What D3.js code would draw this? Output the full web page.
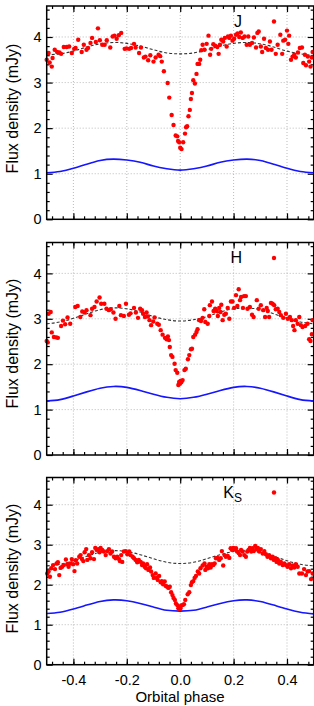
<!DOCTYPE html>
<html>
<head>
<meta charset="utf-8">
<script src="https://cdn.jsdelivr.net/npm/d3@7"></script>
<style>
  body { margin: 0; background: #fff; }
  svg { display: block; font-family: "Liberation Sans", Arial, sans-serif; }
</style>
</head>
<body>
<svg id="chart" width="314" height="706"></svg>
<script>
// observed fluxes [orbital phase, mJy]
const jPoints = [
  [-0.500,3.50],[-0.493,3.65],[-0.489,3.44],[-0.481,3.35],[-0.478,3.54],[-0.470,3.72],[-0.461,3.67],[-0.452,3.66],
  [-0.446,3.63],[-0.436,3.78],[-0.425,3.78],[-0.416,3.79],[-0.406,3.65],[-0.397,3.74],[-0.392,3.76],[-0.382,3.94],
  [-0.369,3.67],[-0.361,3.83],[-0.351,3.72],[-0.345,3.76],[-0.336,3.87],[-0.330,3.98],[-0.316,3.89],[-0.308,4.19],
  [-0.301,3.93],[-0.292,3.83],[-0.283,3.83],[-0.275,3.93],[-0.262,3.77],[-0.253,4.01],[-0.246,4.03],[-0.238,3.96],
  [-0.230,4.04],[-0.221,4.09],[-0.208,3.74],[-0.201,3.75],[-0.191,3.74],[-0.184,3.76],[-0.173,3.85],[-0.167,3.77],
  [-0.154,3.65],[-0.147,3.77],[-0.136,3.55],[-0.130,3.57],[-0.120,3.49],[-0.112,3.60],[-0.100,3.46],[-0.092,3.55],
  [-0.081,3.61],[-0.075,3.58],[-0.069,3.46],[-0.061,3.25],[-0.047,2.99],[-0.041,2.67],[-0.032,2.29],[-0.025,2.07],
  [-0.017,1.84],[-0.011,1.82],[-0.008,1.72],[-0.004,1.69],[0.000,1.57],[0.005,1.54],[0.011,1.69],[0.018,1.88],
  [0.022,2.02],[0.026,2.04],[0.031,2.26],[0.036,2.40],[0.040,2.64],[0.044,2.77],[0.049,3.05],[0.055,2.98],
  [0.061,3.19],[0.065,3.41],[0.071,3.41],[0.075,3.50],[0.079,3.71],[0.084,3.83],[0.091,3.72],[0.099,3.85],
  [0.106,4.03],[0.112,3.61],[0.116,3.74],[0.124,3.84],[0.131,3.81],[0.139,3.78],[0.144,3.63],[0.149,3.83],
  [0.154,3.94],[0.161,3.90],[0.167,3.98],[0.174,3.79],[0.179,4.01],[0.184,3.98],[0.190,4.03],[0.196,3.92],
  [0.202,3.96],[0.209,4.05],[0.215,4.08],[0.221,4.00],[0.227,4.10],[0.234,3.98],[0.241,4.01],[0.249,3.83],
  [0.255,4.01],[0.261,3.83],[0.269,3.87],[0.276,3.99],[0.284,3.77],[0.289,4.09],[0.294,4.12],[0.302,3.79],
  [0.307,3.67],[0.314,3.96],[0.321,3.76],[0.329,3.72],[0.336,3.90],[0.342,3.72],[0.358,3.63],[0.365,3.83],
  [0.375,4.05],[0.382,3.63],[0.386,3.92],[0.393,3.94],[0.400,4.14],[0.405,3.85],[0.408,4.03],[0.415,3.50],
  [0.421,3.57],[0.427,3.61],[0.433,3.55],[0.441,3.66],[0.448,3.76],[0.456,3.77],[0.461,3.43],[0.467,3.61],
  [0.471,3.38],[0.478,3.57],[0.483,3.46],[0.488,3.35],[0.493,3.55],[0.496,3.67]
];

const hPoints = [
  [-0.500,2.51],[-0.496,2.48],[-0.493,3.11],[-0.485,3.15],[-0.481,2.70],[-0.473,2.60],[-0.464,2.59],[-0.458,2.58],
  [-0.446,2.84],[-0.439,2.96],[-0.431,2.88],[-0.422,3.03],[-0.412,2.89],[-0.393,3.26],[-0.384,3.28],[-0.374,3.04],
  [-0.367,3.16],[-0.358,3.14],[-0.351,3.19],[-0.336,3.08],[-0.330,3.22],[-0.321,3.26],[-0.313,3.38],[-0.302,3.47],
  [-0.296,3.33],[-0.284,3.33],[-0.276,3.22],[-0.267,3.19],[-0.260,3.21],[-0.250,3.14],[-0.242,3.00],[-0.228,3.28],
  [-0.222,3.08],[-0.211,3.06],[-0.203,3.33],[-0.192,3.09],[-0.186,3.12],[-0.173,3.24],[-0.166,3.14],[-0.158,3.02],
  [-0.150,3.22],[-0.143,3.19],[-0.139,3.11],[-0.132,3.04],[-0.126,3.14],[-0.121,3.05],[-0.115,2.97],[-0.109,2.86],
  [-0.101,2.94],[-0.096,3.03],[-0.086,2.89],[-0.080,2.87],[-0.073,2.75],[-0.066,2.65],[-0.057,2.58],[-0.051,2.55],
  [-0.046,2.61],[-0.042,2.53],[-0.039,2.38],[-0.034,2.20],[-0.029,2.16],[-0.021,2.01],[-0.017,1.87],[-0.011,1.81],
  [-0.007,1.54],[-0.004,1.61],[-0.001,1.57],[0.001,1.63],[0.004,1.60],[0.009,1.65],[0.016,1.87],[0.021,1.90],
  [0.029,2.11],[0.034,2.20],[0.040,2.33],[0.044,2.34],[0.049,2.60],[0.056,2.65],[0.061,2.71],[0.065,2.77],
  [0.071,2.97],[0.078,2.95],[0.084,3.02],[0.090,3.21],[0.094,2.93],[0.103,2.89],[0.109,3.06],[0.111,3.30],
  [0.119,3.38],[0.125,3.17],[0.131,3.22],[0.137,3.17],[0.141,3.06],[0.146,3.24],[0.151,3.15],[0.154,3.31],
  [0.159,2.97],[0.165,3.09],[0.171,3.11],[0.178,3.24],[0.184,3.00],[0.190,3.38],[0.196,3.38],[0.202,3.24],
  [0.209,3.52],[0.214,3.28],[0.219,3.65],[0.224,3.41],[0.228,3.48],[0.235,3.24],[0.239,3.50],[0.246,3.50],
  [0.252,3.22],[0.261,3.26],[0.269,3.09],[0.275,3.04],[0.287,3.41],[0.294,3.22],[0.302,3.30],[0.311,3.19],
  [0.318,3.04],[0.324,3.24],[0.328,3.17],[0.333,3.04],[0.340,3.35],[0.346,3.33],[0.352,3.30],[0.358,3.21],
  [0.365,3.22],[0.371,3.15],[0.377,3.08],[0.386,3.02],[0.396,3.11],[0.403,3.00],[0.411,3.04],[0.418,2.97],
  [0.423,2.84],[0.428,2.75],[0.433,2.97],[0.440,2.89],[0.446,3.04],[0.452,2.86],[0.458,2.82],[0.468,2.84],
  [0.477,2.89],[0.483,2.55],[0.488,2.51],[0.493,2.66],[0.496,2.97]
];

const ksPoints = [
  [-0.498,2.28],[-0.493,2.33],[-0.488,2.20],[-0.483,2.41],[-0.476,2.49],[-0.469,2.39],[-0.463,2.53],[-0.458,2.56],
  [-0.453,2.24],[-0.448,2.42],[-0.442,2.45],[-0.436,2.49],[-0.428,2.63],[-0.423,2.51],[-0.418,2.45],[-0.411,2.53],
  [-0.406,2.64],[-0.401,2.51],[-0.396,2.34],[-0.391,2.61],[-0.386,2.53],[-0.378,2.70],[-0.373,2.74],[-0.368,2.64],
  [-0.363,2.59],[-0.358,2.81],[-0.352,2.89],[-0.348,2.62],[-0.342,2.74],[-0.336,2.66],[-0.330,2.81],[-0.323,2.64],
  [-0.318,2.92],[-0.313,2.87],[-0.307,2.89],[-0.302,2.81],[-0.298,2.92],[-0.292,2.87],[-0.286,2.83],[-0.279,2.74],
  [-0.273,2.84],[-0.267,2.89],[-0.261,2.78],[-0.255,2.83],[-0.248,2.70],[-0.242,2.66],[-0.236,2.70],[-0.229,2.64],
  [-0.226,2.59],[-0.221,2.74],[-0.217,2.57],[-0.211,2.83],[-0.204,2.84],[-0.198,2.76],[-0.191,2.83],[-0.186,2.74],
  [-0.178,2.70],[-0.173,2.66],[-0.167,2.62],[-0.161,2.56],[-0.155,2.62],[-0.148,2.57],[-0.143,2.49],[-0.139,2.53],
  [-0.133,2.45],[-0.128,2.41],[-0.124,2.51],[-0.119,2.37],[-0.113,2.43],[-0.109,2.33],[-0.103,2.24],[-0.099,2.17],
  [-0.092,2.28],[-0.088,2.17],[-0.084,2.12],[-0.079,2.22],[-0.073,2.06],[-0.069,2.09],[-0.064,2.01],[-0.058,2.08],
  [-0.054,1.97],[-0.049,1.95],[-0.044,1.92],[-0.039,1.95],[-0.034,1.81],[-0.029,1.74],[-0.025,1.67],[-0.020,1.62],
  [-0.016,1.53],[-0.011,1.49],[-0.007,1.41],[-0.004,1.45],[-0.001,1.39],[0.001,1.41],[0.004,1.48],[0.009,1.49],
  [0.014,1.51],[0.019,1.62],[0.028,1.76],[0.034,1.81],[0.040,1.99],[0.044,2.06],[0.049,2.09],[0.054,2.17],
  [0.059,2.22],[0.066,2.33],[0.071,2.28],[0.076,2.41],[0.084,2.48],[0.091,2.53],[0.094,2.37],[0.099,2.45],
  [0.104,2.41],[0.109,2.51],[0.114,2.43],[0.119,2.51],[0.124,2.49],[0.129,2.53],[0.134,2.66],[0.140,2.67],
  [0.146,2.62],[0.152,2.66],[0.156,2.84],[0.161,2.48],[0.166,2.74],[0.171,2.70],[0.178,2.72],[0.184,2.67],
  [0.189,2.91],[0.194,2.87],[0.199,2.92],[0.204,2.89],[0.209,2.91],[0.213,2.83],[0.219,2.79],[0.224,2.74],
  [0.228,2.87],[0.234,2.83],[0.240,2.74],[0.246,2.70],[0.251,2.83],[0.256,2.87],[0.261,2.92],[0.266,2.83],
  [0.271,2.91],[0.276,2.84],[0.281,2.97],[0.286,2.89],[0.291,2.92],[0.296,2.83],[0.302,2.89],[0.309,2.78],
  [0.315,2.84],[0.321,2.76],[0.327,2.70],[0.333,2.74],[0.340,2.66],[0.346,2.70],[0.351,2.62],[0.356,2.66],
  [0.361,2.57],[0.366,2.62],[0.371,2.53],[0.377,2.57],[0.384,2.49],[0.390,2.53],[0.396,2.49],[0.402,2.45],
  [0.408,2.51],[0.415,2.41],[0.421,2.48],[0.427,2.43],[0.433,2.51],[0.440,2.45],[0.446,2.28],[0.456,2.28],
  [0.464,2.39],[0.471,2.24],[0.477,2.33],[0.483,2.34],[0.490,2.14],[0.496,2.28]
];

// model curves sampled every 0.05 in phase
const modelPhase = [-0.50,-0.45,-0.40,-0.35,-0.30,-0.25,-0.20,-0.15,-0.10,-0.05,0.00,0.05,0.10,0.15,0.20,0.25,0.30,0.35,0.40,0.45,0.50];
const jStar   = [1.02,1.05,1.12,1.21,1.29,1.32,1.30,1.25,1.17,1.11,1.08,1.11,1.17,1.25,1.30,1.32,1.29,1.21,1.12,1.05,1.02];
const jTotal  = [3.61,3.63,3.69,3.78,3.85,3.88,3.86,3.80,3.72,3.65,3.63,3.65,3.72,3.80,3.86,3.88,3.85,3.78,3.69,3.63,3.59];
const hStar   = [1.19,1.22,1.30,1.39,1.47,1.51,1.49,1.42,1.34,1.27,1.24,1.27,1.34,1.42,1.49,1.51,1.47,1.39,1.30,1.22,1.19];
const hTotal  = [2.89,2.93,3.01,3.11,3.20,3.24,3.22,3.15,3.05,2.98,2.95,2.98,3.05,3.15,3.22,3.24,3.20,3.11,3.01,2.93,2.89];
const ksStar  = [1.28,1.31,1.39,1.49,1.58,1.62,1.60,1.53,1.44,1.36,1.34,1.36,1.44,1.53,1.60,1.62,1.58,1.49,1.39,1.31,1.27];
const ksTotal = [2.47,2.51,2.60,2.71,2.81,2.85,2.83,2.75,2.65,2.56,2.53,2.56,2.65,2.75,2.83,2.85,2.81,2.71,2.60,2.51,2.47];

const xMajor = [-0.4, -0.2, 0.0, 0.2, 0.4];
const yMajor = [0, 1, 2, 3, 4];
const yMax = 4.68;

const svg = d3.select("#chart");
const left = 46.7, right = 313.7;

const x = d3.scaleLinear().domain([-0.5, 0.5]).range([left, right]);
const xMinor = d3.range(-0.48, 0.49, 0.04);

const panels = [
  {band: "J",  pts: jPoints,  star: jStar,  total: jTotal,  top: 6,     bottom: 219.3, labelY: 108.5, legY: 26.5},
  {band: "H",  pts: hPoints,  star: hStar,  total: hTotal,  top: 242.5, bottom: 455,   labelY: 343.5, legY: 263},
  {band: "K",  pts: ksPoints, star: ksStar, total: ksTotal, top: 477.5, bottom: 664.7, labelY: 568.5, legY: 497.5, sub: "S"}
];

panels.forEach((p, i) => {
  const y = d3.scaleLinear().domain([0, yMax]).range([p.bottom, p.top]);
  const g = svg.append("g");
  const yMinor = d3.range(0.2, yMax, 0.2).filter(v => Math.abs(v - Math.round(v)) > 0.01);

  // grid
  g.append("g").selectAll("line").data(xMajor).join("line")
    .attr("x1", d => x(d)).attr("x2", d => x(d))
    .attr("y1", p.top).attr("y2", p.bottom)
    .attr("stroke", "#aaa").attr("stroke-width", 0.8).attr("stroke-dasharray", "1,2");
  g.append("g").selectAll("line").data(yMajor.slice(1)).join("line")
    .attr("x1", left).attr("x2", right)
    .attr("y1", d => y(d)).attr("y2", d => y(d))
    .attr("stroke", "#aaa").attr("stroke-width", 0.8).attr("stroke-dasharray", "1,2");

  // inward ticks on all four sides
  const tickStyle = sel => { sel.select(".domain").remove(); sel.selectAll("line").attr("stroke", "#000").attr("stroke-width", 1.2); };
  g.append("g").attr("transform", `translate(0,${p.bottom})`)
    .call(d3.axisBottom(x).tickValues(xMinor).tickSize(-3).tickFormat("")).call(tickStyle);
  g.append("g").attr("transform", `translate(0,${p.top})`)
    .call(d3.axisTop(x).tickValues(xMinor).tickSize(-3).tickFormat("")).call(tickStyle);
  g.append("g").attr("transform", `translate(0,${p.top})`)
    .call(d3.axisTop(x).tickValues(xMajor).tickSize(-6).tickFormat("")).call(tickStyle);
  g.append("g").attr("transform", `translate(${left},0)`)
    .call(d3.axisLeft(y).tickValues(yMinor).tickSize(-3).tickFormat("")).call(tickStyle);
  g.append("g").attr("transform", `translate(${right},0)`)
    .call(d3.axisRight(y).tickValues(yMinor).tickSize(-3).tickFormat("")).call(tickStyle);
  g.append("g").attr("transform", `translate(${right},0)`)
    .call(d3.axisRight(y).tickValues(yMajor).tickSize(-6).tickFormat("")).call(tickStyle);

  const yAxis = g.append("g").attr("transform", `translate(${left},0)`)
    .call(d3.axisLeft(y).tickValues(yMajor).tickSize(-6).tickPadding(5).tickFormat(d3.format("d")))
    .call(tickStyle);
  yAxis.selectAll("text").attr("font-size", 14.5).attr("fill", "#000").attr("font-family", "Liberation Sans, Arial, sans-serif");

  const xAxis = g.append("g").attr("transform", `translate(0,${p.bottom})`)
    .call(d3.axisBottom(x).tickValues(xMajor).tickSize(-6).tickPadding(10)
      .tickFormat(d => i === 2 ? d.toFixed(1) : ""))
    .call(tickStyle);
  xAxis.selectAll("text").attr("font-size", 14.5).attr("fill", "#000").attr("font-family", "Liberation Sans, Arial, sans-serif");

  // model lines
  const line = d3.line().x((d, k) => x(modelPhase[k])).y(d => y(d)).curve(d3.curveNatural);
  g.append("path").datum(p.total).attr("d", line)
    .attr("fill", "none").attr("stroke", "#333").attr("stroke-width", 1.1).attr("stroke-dasharray", "3,2");
  g.append("path").datum(p.star).attr("d", line)
    .attr("fill", "none").attr("stroke", "#1515ff").attr("stroke-width", 1.6);

  // observed points
  g.append("g").selectAll("circle").data(p.pts).join("circle")
    .attr("cx", d => x(d[0])).attr("cy", d => y(d[1])).attr("r", 2.2).attr("fill", "#f00");

  // frame
  g.append("rect").attr("x", left).attr("y", p.top)
    .attr("width", right - left).attr("height", p.bottom - p.top)
    .attr("fill", "none").attr("stroke", "#000").attr("stroke-width", 1.5);

  // legend
  const leg = g.append("text").attr("x", 242).attr("y", p.legY)
    .attr("text-anchor", "end").attr("font-size", 16).text(p.band);
  if (p.sub) leg.append("tspan").attr("dy", 4).attr("font-size", 12).text(p.sub);
  g.append("circle").attr("cx", 274).attr("cy", p.legY - 5).attr("r", 2.2).attr("fill", "#f00");

  // y label
  g.append("text").attr("transform", `translate(18,${p.labelY}) rotate(-90)`)
    .attr("text-anchor", "middle").attr("font-size", 16).text("Flux density (mJy)");
});

svg.append("text").attr("x", 180).attr("y", 702).attr("text-anchor", "middle")
  .attr("font-size", 15).text("Orbital phase");
</script>
</body>
</html>
